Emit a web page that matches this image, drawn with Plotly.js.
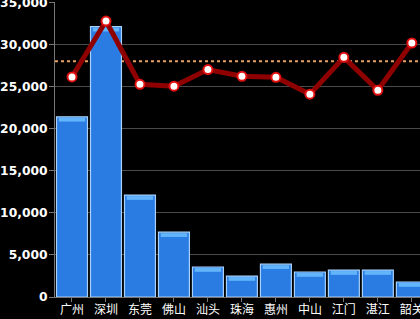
<!DOCTYPE html>
<html><head><meta charset="utf-8">
<script src="https://cdn.plot.ly/plotly-3.0.1.min.js"></script>
<style>html,body{margin:0;padding:0;background:#000;overflow:hidden;}#c{width:420px;height:319px;}</style>
</head><body><div id="c"></div>
<script>
const cities = ['广州','深圳','东莞','佛山','汕头','珠海','惠州','中山','江门','湛江','韶关'];
const barValues = [21400, 32100, 12100, 7700, 3560, 2490, 3900, 2970, 3200, 3200, 1780];
const lineValues = [26130, 32770, 25260, 25030, 27000, 26210, 26090, 24080, 28460, 24550, 30160];
const targetValue = 28000;
const yTicks = [0, 5000, 10000, 15000, 20000, 25000, 30000, 35000];

const bevel = 450;
const data = [
  {type:'bar', x:cities, y:barValues, width:0.91,
   marker:{color:'#2a7be2', line:{color:'#a8d2fa', width:1.2}},
   hoverinfo:'none'},
  {type:'bar', x:cities, y:barValues.map(() => bevel), base:barValues.map(v => v - bevel - 120), width:0.78,
   marker:{color:'#62b4fb', line:{width:0}},
   hoverinfo:'none'},
  {type:'scatter', mode:'lines+markers', x:cities, y:lineValues,
   line:{color:'#8f0000', width:5},
   marker:{color:'#ffffff', size:9, line:{color:'#e01010', width:2}},
   hoverinfo:'none'}
];
const layout = {
  width:420, height:319,
  margin:{l:55, r:0, t:2, b:22},
  paper_bgcolor:'#000', plot_bgcolor:'#000',
  showlegend:false, barmode:'overlay',
  font:{family:'DejaVu Sans', color:'#fff'},
  xaxis:{type:'category', range:[-0.5, 10.24], showgrid:false,
    showline:true, linecolor:'#777', linewidth:1,
    ticks:'outside', ticklen:4, tickcolor:'#777', ticklabelstandoff:-2,
    tickfont:{family:'Noto Sans CJK SC', size:12, color:'#fff'}},
  yaxis:{range:[0, 35030], tickvals:yTicks, tickformat:',d', ticklabeloverflow:'allow',
    showgrid:true, gridcolor:'#4a4a4a', gridwidth:1,
    showline:true, linecolor:'#777', linewidth:1, zeroline:false,
    ticks:'outside', ticklen:5, tickcolor:'#777', ticklabelstandoff:-1,
    tickfont:{family:'DejaVu Sans', size:12.3, color:'#fff', weight:700}},
  shapes:[{type:'line', xref:'paper', x0:0, x1:1, yref:'y', y0:targetValue, y1:targetValue,
    layer:'below', line:{color:'#e8a060', width:2, dash:'dot'}}]
};
Plotly.newPlot('c', data, layout, {displayModeBar:false, staticPlot:true});
</script></body></html>
